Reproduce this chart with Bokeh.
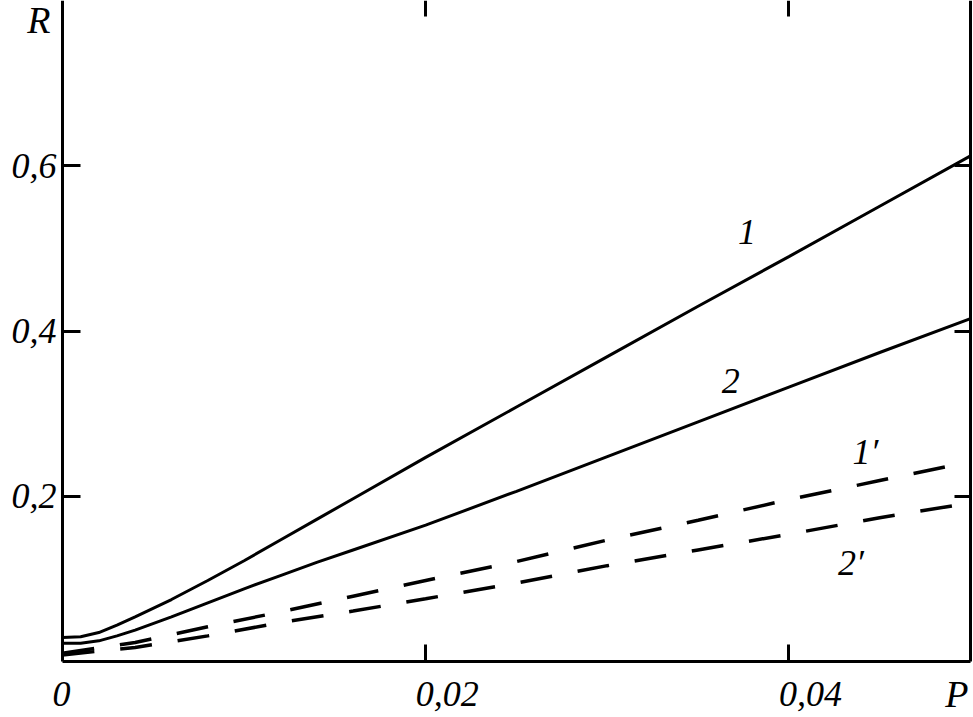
from bokeh.plotting import figure
from bokeh.models import Range1d, LinearAxis, FixedTicker, Label, LabelSet, ColumnDataSource
from bokeh.core.properties import value
from bokeh.embed import file_html
from bokeh.resources import INLINE

# ---- data ----
P_solid = [0.0, 0.001, 0.002, 0.003, 0.004, 0.006, 0.008, 0.010, 0.012, 0.014, 0.016,
           0.020, 0.025, 0.030, 0.035, 0.040, 0.045, 0.050]
R_1 = [0.029, 0.030, 0.035, 0.044, 0.054, 0.075, 0.098, 0.122, 0.147, 0.172, 0.197,
       0.247, 0.308, 0.369, 0.430, 0.490, 0.551, 0.612]
R_2 = [0.022, 0.022, 0.025, 0.031, 0.038, 0.054, 0.071, 0.088, 0.104, 0.120, 0.135,
       0.165, 0.206, 0.248, 0.290, 0.332, 0.374, 0.415]

P_dash = [0.0, 0.004, 0.008, 0.012, 0.016, 0.020, 0.025, 0.030, 0.035,
          0.040, 0.045, 0.050]
R_1p = [0.010, 0.023, 0.042, 0.060, 0.079, 0.098, 0.121, 0.147, 0.171,
        0.196, 0.219, 0.242]
R_2p = [0.008, 0.017, 0.031, 0.047, 0.061, 0.076, 0.095, 0.116, 0.135,
        0.154, 0.174, 0.192]

P_max = 0.05
R_max = 0.8
x_ticks = [0.0, 0.02, 0.04]
x_tick_labels = ["0", "0,02", "0,04"]
y_ticks = [0.2, 0.4, 0.6]
y_tick_labels = ["0,2", "0,4", "0,6"]
curve_names = ["1", "2", "1\u2032", "2\u2032"]
x_name = "P"
y_name = "R"

FONT = "Liberation Serif"
W, H = 972, 716
# frame covers the canvas; the drawn axes sit at fixed data positions
px_per_P = 908 / P_max
px_per_R = 661 / R_max

p = figure(width=W, height=H,
           x_range=Range1d(-62 / px_per_P, P_max + (W - 970) / px_per_P),
           y_range=Range1d(-(H - 661) / px_per_R, R_max),
           output_backend="svg", toolbar_location=None,
           min_border=0, outline_line_color=None,
           background_fill_color="white", border_fill_color="white")
p.title.visible = False
p.grid.visible = False


def style_axis(ax, tick_len):
    ax.major_tick_in = tick_len
    ax.major_tick_out = 0
    ax.minor_tick_in = 0
    ax.minor_tick_out = 0
    ax.axis_line_width = 3
    ax.axis_line_color = "black"
    ax.major_tick_line_width = 3
    ax.major_tick_line_color = "black"


# bottom axis (ticks only; its labels are placed below)
xa = p.xaxis[0]
xa.fixed_location = 0.0
xa.bounds = (0.0, P_max)
xa.ticker = FixedTicker(ticks=x_ticks[1:])
style_axis(xa, 17)
xa.major_label_text_color = None

# left axis
ya = p.yaxis[0]
ya.fixed_location = 0.0
ya.bounds = (0.0, R_max)
ya.ticker = FixedTicker(ticks=y_ticks)
ya.major_label_overrides = {t: s for t, s in zip(y_ticks, y_tick_labels)}
style_axis(ya, 18)
ya.major_label_text_font = FONT
ya.major_label_text_font_style = "italic"
ya.major_label_text_font_size = "36px"
ya.major_label_text_color = "black"
ya.major_label_standoff = 6

# right axis
ra = LinearAxis(ticker=FixedTicker(ticks=y_ticks), fixed_location=P_max, bounds=(0.0, R_max))
style_axis(ra, 16)
ra.major_label_text_color = None
p.add_layout(ra, "right")

# top axis (ticks only)
ta = LinearAxis(ticker=FixedTicker(ticks=x_ticks[1:]), fixed_location=R_max, bounds=(0.0, P_max))
style_axis(ta, 16)
ta.axis_line_color = None
ta.major_label_text_color = None
p.add_layout(ta, "above")

# curves
p.line(P_solid, R_1, line_color="black", line_width=3)
p.line(P_solid, R_2, line_color="black", line_width=3)
p.line(P_dash, R_1p, line_color="black", line_width=3.5, line_dash="32 26")
p.line(P_dash, R_2p, line_color="black", line_width=3.5, line_dash="32 26")

# bottom tick labels
src = ColumnDataSource(dict(x=x_ticks, y=[0.0] * len(x_ticks), t=x_tick_labels))
p.add_layout(LabelSet(x="x", y="y", text="t", source=src, x_offset=-10, y_offset=-44,
                      text_align="left", text_baseline="alphabetic",
                      text_font=value(FONT), text_font_style="italic",
                      text_font_size="36px", text_color="black"))

# axis names
p.add_layout(Label(x=P_max, y=0.0, text=x_name, x_offset=-2, y_offset=-32,
                   text_align="right", text_baseline="alphabetic",
                   text_font=FONT, text_font_style="italic",
                   text_font_size="38px", text_color="black"))
p.add_layout(Label(x=0.0, y=R_max, text=y_name, x_offset=-12, y_offset=-19,
                   text_align="right", text_baseline="alphabetic",
                   text_font=FONT, text_font_style="italic",
                   text_font_size="38px", text_color="black"))

# curve labels
label_pos = [(0.0372, 0.520), (0.0363, 0.339), (0.0435, 0.253), (0.0427, 0.119)]
for name, (lx, ly) in zip(curve_names, label_pos):
    p.add_layout(Label(x=lx, y=ly, text=name, text_align="left", text_baseline="middle",
                       text_font=FONT, text_font_style="italic",
                       text_font_size="36px", text_color="black"))

open("out.html", "w").write(file_html(p, INLINE))
